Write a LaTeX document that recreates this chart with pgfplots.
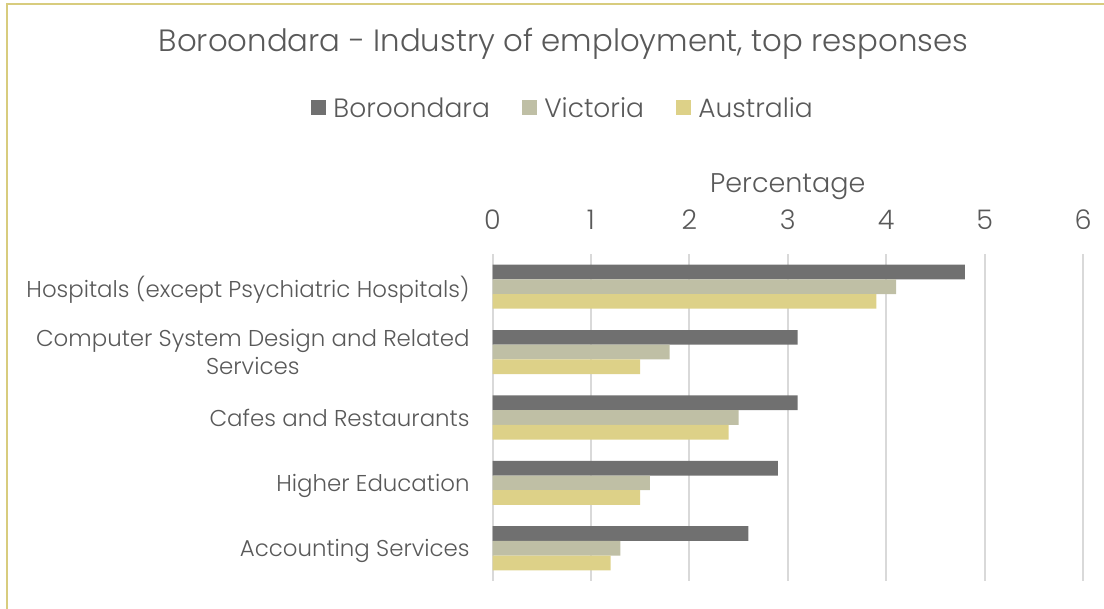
\documentclass[border=0pt]{standalone}
\usepackage{fontspec}
\setmainfont{Poppins Light}
\usepackage{pgfplots}
\pgfplotsset{compat=1.18}
\definecolor{txt}{HTML}{595959}
\definecolor{borc}{HTML}{707070}
\definecolor{vicc}{HTML}{BFBFA5}
\definecolor{ausc}{HTML}{DDD188}
\definecolor{framec}{HTML}{D8CC7E}
\definecolor{gridc}{HTML}{D9D9D9}
\begin{document}
\begin{tikzpicture}[x=1bp,y=1bp]
\path[use as bounding box] (0,0) rectangle (1104,609);
\draw[framec, line width=2bp] (7,0) -- (7,604.5) -- (1104,604.5);
\begin{axis}[
  at={(492.5bp,28bp)}, anchor=south west,
  scale only axis, width=590.5bp, height=327bp,
  xbar=0pt, bar width=14.7bp,
  xmin=0, xmax=6, ymin=-0.5, ymax=4.5,
  xtick={0,...,6}, ytick={0,...,4},
  yticklabels={Accounting Services, Higher Education, Cafes and Restaurants, {Computer System Design and Related\\Services}, Hospitals (except Psychiatric Hospitals)},
  axis line style={draw=none}, tick style={draw=none},
  xmajorgrids, grid style={gridc, line width=2bp},
  xticklabel pos=upper,
  /pgf/number format/assume math mode=true,
  xticklabel style={anchor=base, inner sep=0pt, yshift=24bp, text=txt, font=\fontsize{27bp}{32bp}\selectfont},
  yticklabel style={anchor=east, inner sep=0pt, align=center, text depth=0pt, xshift=-18.5bp, text=txt, font=\fontsize{22.9bp}{28.3bp}\selectfont},
  xlabel={Percentage},
  xlabel style={at={(axis description cs:0.5,1)}, anchor=base, inner sep=0pt, yshift=61bp, text=txt, font=\fontsize{27bp}{32bp}\selectfont},
  title={Boroondara - Industry of employment, top responses},
  title style={at={(axis description cs:0.1202,1.6024)}, anchor=base, inner sep=0pt, text=txt, font=\fontsize{30.8bp}{36bp}\selectfont},
  legend style={at={(axis description cs:0.1177,1.4465)}, anchor=center, draw=none, fill=none, inner sep=0pt, legend columns=-1,
    nodes={inner sep=0pt, text=txt}, font=\fontsize{26.5bp}{32bp}\selectfont,
    /tikz/every odd column/.append style={column sep=7.3bp},
    /tikz/every even column/.append style={column sep=32bp}},
  legend image code/.code={\fill[#1] (0bp,-7.5bp) rectangle (15bp,7.5bp);},
  clip=false,
]
\addplot[fill=borc, draw=none, bar shift=14.7bp] coordinates {(2.6,0) (2.9,1) (3.1,2) (3.1,3) (4.8,4)};
\addplot[fill=vicc, draw=none, bar shift=0bp] coordinates {(1.3,0) (1.6,1) (2.5,2) (1.8,3) (4.1,4)};
\addplot[fill=ausc, draw=none, bar shift=-14.7bp] coordinates {(1.2,0) (1.5,1) (2.4,2) (1.5,3) (3.9,4)};
\legend{Boroondara, Victoria, Australia}
\end{axis}
\end{tikzpicture}
\end{document}
